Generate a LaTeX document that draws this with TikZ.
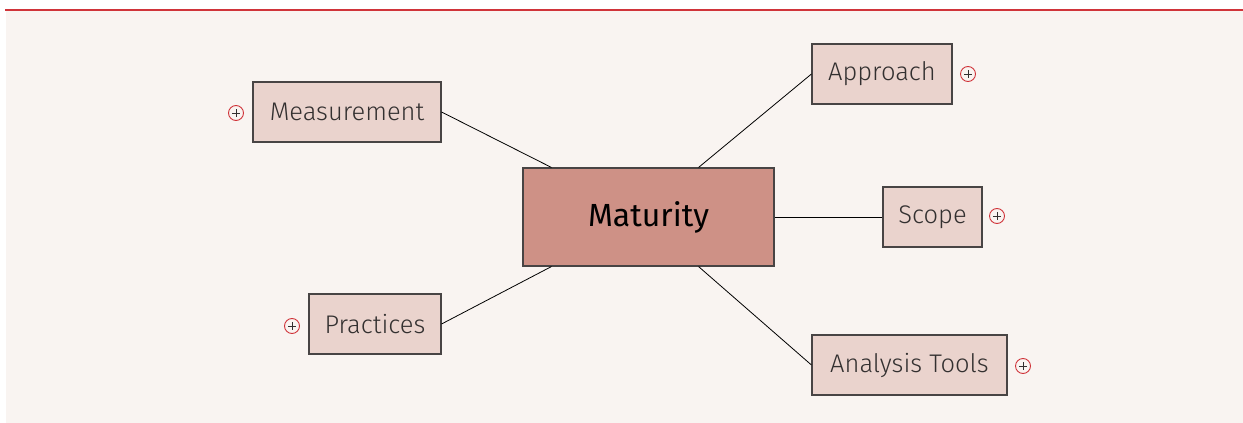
\documentclass[tikz,border=0pt]{standalone}
\usepackage{fontspec}
\setmainfont{Fira Sans}[UprightFont=* Light]
\newfontfamily\centrefont{Fira Sans}
\usetikzlibrary{calc}
\definecolor{mmback}{RGB}{249,244,241}
\definecolor{mmred}{RGB}{208,52,58}
\definecolor{mmtopic}{RGB}{234,211,205}
\definecolor{mmcentre}{RGB}{206,145,134}
\definecolor{mmedge}{RGB}{72,68,68}
\definecolor{mmtext}{RGB}{51,48,48}

\begin{document}
\begin{tikzpicture}[x=1pt,y=-1pt,
    topic/.style={draw=mmedge,line width=1.1pt,fill=mmtopic,text=mmtext,
      font=\fontsize{25.5}{30}\selectfont,minimum height=60,inner sep=0},
    centre/.style={draw=mmedge,line width=1.1pt,fill=mmcentre,text=black,
      font=\centrefont\fontsize{32}{36}\selectfont,minimum width=251,minimum height=98,inner sep=0},
    link/.style={draw=black,line width=.8pt},
    expander/.style={circle,draw=mmred,line width=.9pt,minimum size=15,inner sep=0,
      path picture={
        \draw[mmtext,line width=.9pt] ($(path picture bounding box.center)+(-4,0)$)--++(8,0);
        \draw[mmtext,line width=.9pt] ($(path picture bounding box.center)+(0,-4)$)--++(0,8);
      }}]
  \useasboundingbox (0,0) rectangle (1243,423);
  \fill[mmback] (6,10) rectangle (1243,423);
  \draw[mmred,line width=1.5pt] (5,10)--(1243,10);

  % centre and branches
  \node[centre] (mat) at (648.5,217) {Maturity};
  \node[topic,minimum width=188] (meas) at (347,112) {Measurement};
  \node[topic,minimum width=140] (appr) at (882,74) {Approach};
  \node[topic,minimum width=99] (scope) at (932.5,217) {Scope};
  \node[topic,minimum width=132] (prac) at (375,324) {Practices};
  \node[topic,minimum width=195] (tools) at (909.5,365) {Analysis Tools};

  % collapsed markers
  \node[expander] (xmeas) at (236,113) {};
  \node[expander] (xappr) at (968,74) {};
  \node[expander] (xscope) at (997,216) {};
  \node[expander] (xprac) at (292,326) {};
  \node[expander] (xtools) at (1023,366) {};

  \draw[link] (meas.east)--([xshift=29]mat.north west);
  \draw[link] (appr.west)--([xshift=-76]mat.north east);
  \draw[link] (scope.west)--(mat.east);
  \draw[link] (prac.east)--([xshift=29]mat.south west);
  \draw[link] (tools.west)--([xshift=-76]mat.south east);
\end{tikzpicture}
\end{document}
